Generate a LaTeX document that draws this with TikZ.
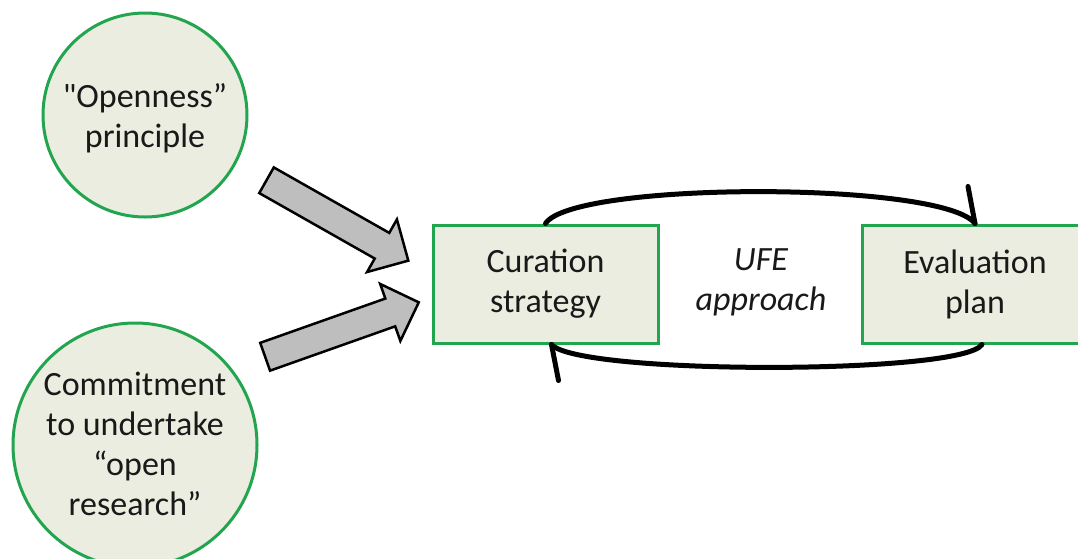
\documentclass[tikz,border=0pt]{standalone}
\usepackage{fontspec}
\setmainfont{Carlito}[Ligatures=TeXOff]
\usetikzlibrary{shapes.arrows}
\definecolor{ringgreen}{RGB}{35,165,80}
\definecolor{paleface}{RGB}{234,237,223}
\definecolor{arrowgray}{RGB}{190,190,190}
\definecolor{inktext}{RGB}{25,25,25}
\begin{document}
\begin{tikzpicture}[x=1pt,y=-1pt,
  bodyfont/.style={font=\fontsize{34}{40}\selectfont, text=inktext},
  idea/.style={circle, draw=ringgreen, line width=3pt, fill=paleface, inner sep=0pt},
  ideatext/.style={bodyfont, align=center, inner sep=0pt},
  stage/.style={rectangle, draw=ringgreen, line width=3pt, fill=paleface,
    minimum width=225pt, minimum height=118pt, align=center, bodyfont},
  push/.style={single arrow, draw=black, line width=2.5pt, fill=arrowgray,
    inner sep=13.5pt, single arrow head extend=15.5pt, minimum height=163pt},
  loop/.style={draw=black, line width=5pt, line cap=round},
  barb/.style={draw=black, line width=5pt, line cap=round}
]
\useasboundingbox (0,0) rectangle (1078,558);
\clip (0,0) rectangle (1078,558);

% principles feeding the strategy
\node[idea, minimum size=204pt] (openness) at (145,115) {};
\node[ideatext] (opennesstext) at (145,118) {"Openness”\\principle};
\node[idea, minimum size=244pt] (commit) at (135,445) {};
\node[ideatext] (committext) at (135,444) {Commitment\\to undertake\\“open\\research”};

% the two stages of the cycle
\node[stage] (curation) at (545.5,284) {Curation\\strategy};
\node[stage, minimum width=226pt] (evaluation) at (975,284) {Evaluation\\plan};
\node[bodyfont, font=\fontsize{34}{40}\selectfont\itshape, align=center] (ufe) at (761,282) {UFE\\approach};

% block arrows into the strategy
\node[push, rotate=-29.55] (pushtop) at (331,216.8) {};
\node[push, rotate=19.5] (pushbottom) at (335,332) {};

% UFE cycle between the stages, each half ending in a single barb
\draw[loop] (curation.north) .. controls (573,181) and (943,181) .. (evaluation.north);
\draw[barb] (evaluation.north) -- ++(-7,-37);
\draw[loop] ([xshift=7pt]evaluation.south) .. controls (962,375) and (578,375) .. ([xshift=6pt]curation.south);
\draw[barb] ([xshift=6pt]curation.south) -- ++(7,36);
\end{tikzpicture}
\end{document}
